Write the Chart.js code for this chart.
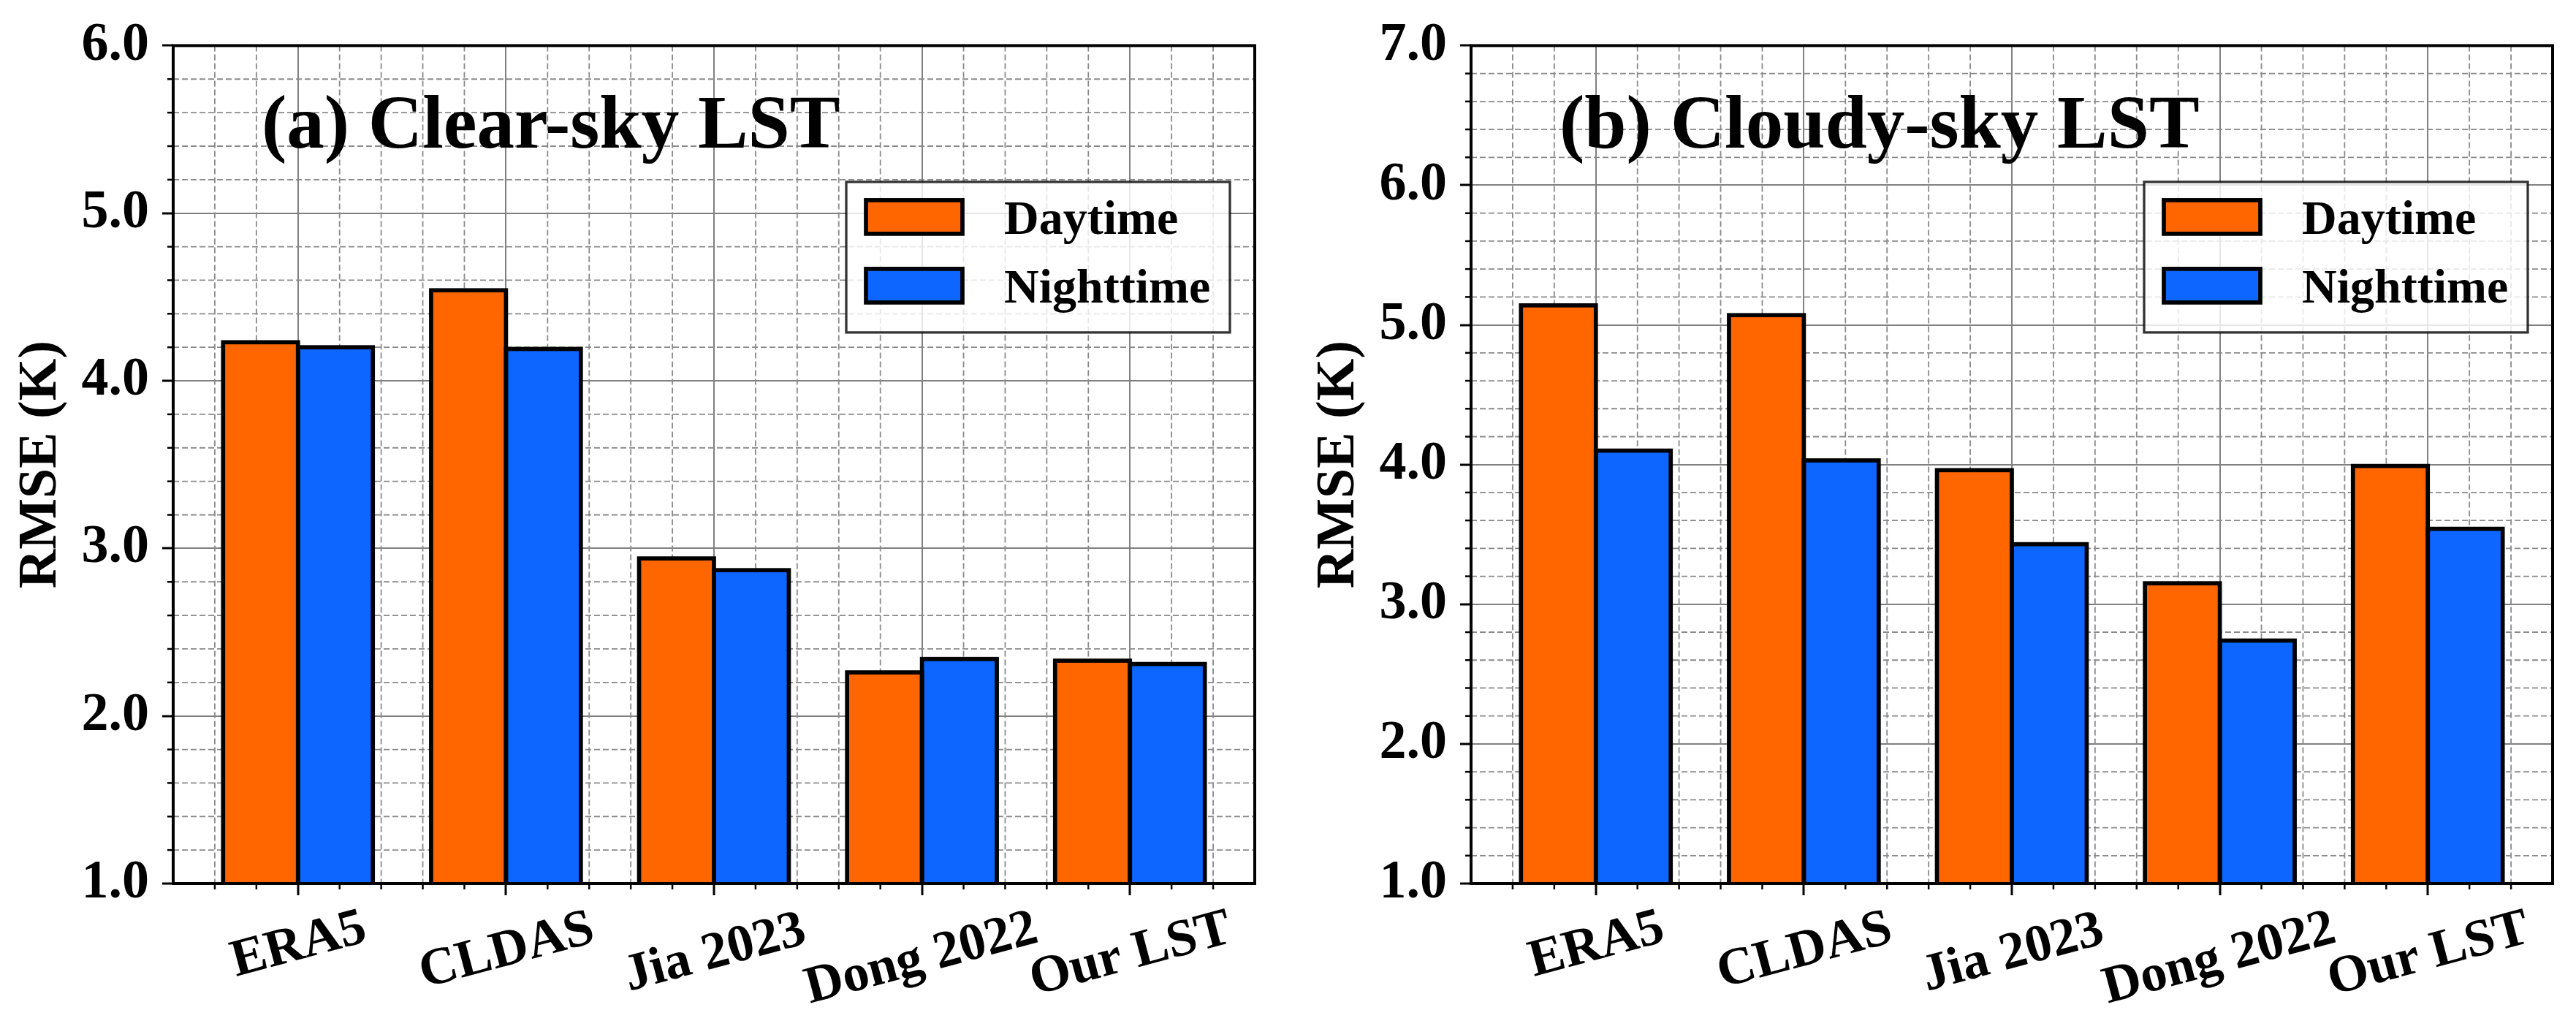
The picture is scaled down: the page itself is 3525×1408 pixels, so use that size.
<!DOCTYPE html>
<html>
<head>
<meta charset="utf-8">
<title>RMSE of LST products</title>
<script src="https://cdn.jsdelivr.net/npm/chart.js@4.4.1/dist/chart.umd.min.js"></script>
<style>
  html, body { margin: 0; padding: 0; background: #fff; }
  body { width: 3525px; height: 1408px; position: relative; overflow: hidden; }
  canvas { position: absolute; top: 0; }
</style>
</head>
<body>
<canvas id="clearSky" width="1760" height="1408" style="left:0px"></canvas>
<canvas id="cloudySky" width="1749" height="1408" style="left:1776px"></canvas>
<script>
// values
const categories = ["ERA5", "CLDAS", "Jia 2023", "Dong 2022", "Our LST"];
const seriesNames = ["Daytime", "Nighttime"];
const clearDay = [4.23, 4.54, 2.94, 2.26, 2.33];
const clearNight = [4.20, 4.19, 2.87, 2.34, 2.31];
const cloudyDay = [5.14, 5.07, 3.96, 3.15, 3.99];
const cloudyNight = [4.10, 4.03, 3.43, 2.74, 3.54];
const clearYRange = [1, 6];
const cloudyYRange = [1, 7];

const FONT = "'Liberation Serif', 'Times New Roman', serif";
const DAY_COLOR = "#ff6600";
const NIGHT_COLOR = "#0c66ff";
const minorStep = 0.2;

function minorValues(scale) {
    const out = [];
    const n = Math.round((scale.max - scale.min) / minorStep);
    for (let k = 1; k < n; k++) {
        const v = scale.min + k * minorStep;
        if (Math.abs(v - Math.round(v)) > 1e-6) out.push(v);
    }
    return out;
}

function line(ctx, x1, y1, x2, y2) {
    ctx.beginPath();
    ctx.moveTo(x1, y1);
    ctx.lineTo(x2, y2);
    ctx.stroke();
}

// minor grid, bar edges, spines, minor ticks, rotated labels, title and legend
const mplLook = {
    id: "mplLook",
    beforeDatasetsDraw(chart) {
        const { ctx, chartArea: a, scales: { x, y } } = chart;
        ctx.save();
        ctx.strokeStyle = "#8a8a8a";
        ctx.lineWidth = 1.8;
        ctx.setLineDash([8, 4]);
        minorValues(x).forEach(v => {
            const px = x.getPixelForValue(v);
            line(ctx, px, a.top, px, a.bottom);
        });
        minorValues(y).forEach(v => {
            const py = y.getPixelForValue(v);
            line(ctx, a.left, py, a.right, py);
        });
        ctx.restore();
    },
    afterDatasetsDraw(chart, args, opts) {
        const { ctx, chartArea: a, scales: { x, y } } = chart;
        ctx.save();

        // bar outlines centred on the bar edge, clipped like the bars
        ctx.save();
        ctx.beginPath();
        ctx.rect(a.left, a.top, a.right - a.left, a.bottom - a.top);
        ctx.clip();
        ctx.strokeStyle = "#000";
        ctx.lineWidth = 5.7;
        ctx.lineJoin = "miter";
        chart.data.datasets.forEach((ds, i) => {
            chart.getDatasetMeta(i).data.forEach(bar => {
                const p = bar.getProps(["x", "y", "base", "width"], true);
                ctx.strokeRect(p.x - p.width / 2, p.y, p.width, p.base - p.y);
            });
        });
        ctx.restore();

        // spines
        ctx.strokeStyle = "#000";
        ctx.lineWidth = 4;
        ctx.strokeRect(a.left, a.top, a.right - a.left, a.bottom - a.top);

        // minor ticks
        ctx.lineWidth = 2.5;
        minorValues(x).forEach(v => {
            const px = x.getPixelForValue(v);
            line(ctx, px, a.bottom, px, a.bottom + 8);
        });
        minorValues(y).forEach(v => {
            const py = y.getPixelForValue(v);
            line(ctx, a.left - 8, py, a.left, py);
        });

        // rotated category labels, centred under the tick
        const rot = 15 * Math.PI / 180;
        ctx.fillStyle = "#000";
        ctx.font = "bold 72px " + FONT;
        categories.forEach((label, i) => {
            const px = x.getPixelForValue(i);
            const m = ctx.measureText(label);
            const asc = m.actualBoundingBoxAscent, desc = m.actualBoundingBoxDescent;
            const halfH = (m.width * Math.sin(rot) + (asc + desc) * Math.cos(rot)) / 2;
            ctx.save();
            ctx.translate(px, a.bottom + 33 + halfH);
            ctx.rotate(-rot);
            ctx.textAlign = "center";
            ctx.textBaseline = "alphabetic";
            ctx.fillText(label, 0, (asc - desc) / 2);
            ctx.restore();
        });

        // panel title
        ctx.font = "bold 103px " + FONT;
        ctx.textAlign = "left";
        ctx.textBaseline = "alphabetic";
        ctx.fillText(opts.title, a.left + 121, a.top + 140);

        // legend
        const boxW = 525, boxH = 206;
        const bx = a.right - 34 - boxW, by = a.top + 186.5;
        ctx.fillStyle = "rgba(255,255,255,0.8)";
        ctx.fillRect(bx, by, boxW, boxH);
        ctx.strokeStyle = "rgba(0,0,0,0.8)";
        ctx.lineWidth = 3.3;
        ctx.strokeRect(bx, by, boxW, boxH);
        ctx.font = "bold 66px " + FONT;
        chart.data.datasets.forEach((ds, i) => {
            const cy = by + 48 + i * 94;
            ctx.fillStyle = ds.backgroundColor;
            ctx.fillRect(bx + 27, cy - 23, 132, 46);
            ctx.strokeStyle = "#000";
            ctx.lineWidth = 5.7;
            ctx.strokeRect(bx + 27, cy - 23, 132, 46);
            ctx.fillStyle = "#000";
            ctx.fillText(ds.label, bx + 216, cy + 23);
        });

        ctx.restore();
    }
};

function makePanel(canvasId, dayValues, nightValues, yRange, title, padRight) {
    const toPoints = vals => vals.map((v, i) => ({ x: i, y: v }));
    return new Chart(document.getElementById(canvasId), {
        type: "bar",
        data: {
            datasets: [
                {
                    label: seriesNames[0],
                    data: toPoints(dayValues),
                    backgroundColor: DAY_COLOR,
                    borderWidth: 0,
                },
                {
                    label: seriesNames[1],
                    data: toPoints(nightValues),
                    backgroundColor: NIGHT_COLOR,
                    borderWidth: 0,
                },
            ],
        },
        options: {
            responsive: false,
            animation: false,
            devicePixelRatio: 1,
            categoryPercentage: 0.72,
            barPercentage: 1.0,
            layout: { padding: { top: 54, right: padRight, left: 0, bottom: 0 } },
            plugins: {
                legend: { display: false },
                tooltip: { enabled: false },
                mplLook: { title: title },
            },
            scales: {
                x: {
                    type: "linear",
                    min: -0.6,
                    max: 4.6,
                    offset: false,
                    ticks: { stepSize: 1, includeBounds: false, display: false },
                    grid: {
                        offset: false,
                        color: "#808080",
                        lineWidth: 2,
                        tickColor: "#000",
                        tickLength: 16,
                        tickWidth: 3,
                    },
                    border: { display: false },
                    afterFit: scale => { scale.height = 199; },
                },
                y: {
                    min: yRange[0],
                    max: yRange[1],
                    ticks: {
                        stepSize: 1,
                        color: "#000",
                        padding: 18,
                        font: { family: FONT, size: 74, weight: "bold" },
                        callback: v => v.toFixed(1),
                    },
                    grid: {
                        color: "#808080",
                        lineWidth: 2,
                        tickColor: "#000",
                        tickLength: 15,
                        tickWidth: 3,
                    },
                    border: { display: false },
                    title: {
                        display: true,
                        text: "RMSE (K)",
                        color: "#000",
                        font: { family: FONT, size: 74, weight: "bold" },
                        padding: { top: 12, bottom: 0 },
                    },
                    afterFit: scale => { scale.width = 237; },
                },
            },
        },
        plugins: [mplLook],
    });
}

document.fonts.load("bold 74px 'Liberation Serif'").finally(() => {
    makePanel("clearSky", clearDay, clearNight, clearYRange, "(a) Clear-sky LST", 43);
    makePanel("cloudySky", cloudyDay, cloudyNight, cloudyYRange, "(b) Cloudy-sky LST", 32);
});
</script>
</body>
</html>
